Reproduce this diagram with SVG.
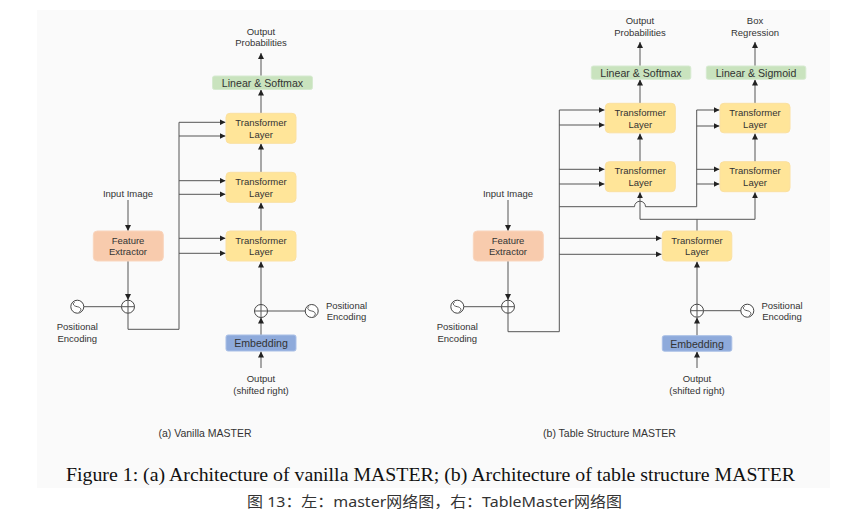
<svg xmlns="http://www.w3.org/2000/svg" width="858" height="519" viewBox="0 0 858 519">
<style>
.t{font-family:"Liberation Sans",Arial,sans-serif;font-size:9.5px;fill:#333;text-anchor:middle;dominant-baseline:central}
.bt{font-family:"Liberation Sans",Arial,sans-serif;font-size:10.6px;fill:#333;text-anchor:middle;dominant-baseline:central}
.ct{font-family:"Liberation Sans",Arial,sans-serif;font-size:10.5px;fill:#333;text-anchor:middle;dominant-baseline:central}
.ln{fill:none;stroke:#555;stroke-width:1}
.tl{fill:#ffe599;stroke:#fbe0a0;stroke-width:1}
.gr{fill:#c9e3be;stroke:#d6ead0;stroke-width:1}
.fe{fill:#f8cbad;stroke:#f9d5bd;stroke-width:1}
.em{fill:#8eaadb;stroke:#a9bfe6;stroke-width:1}
.pl{fill:#fff;stroke:#444;stroke-width:1}
</style>
<defs>
<marker id="ah" viewBox="0 0 8 8" refX="8" refY="4" markerWidth="6" markerHeight="6" markerUnits="userSpaceOnUse" orient="auto">
<path d="M0,0 L8,4 L0,8 z" fill="#222"/>
</marker>
<g id="plus"><circle r="6.5" class="pl"/><path d="M-6.5,0 H6.5 M0,-6.5 V6.5" class="ln" stroke="#444"/></g>
<g id="pe"><circle r="6.5" class="pl"/><path d="M-2.5,-4.5 C-5.5,-3 -3.5,-0.5 0,0 C3.5,0.5 5,3.5 2,5" class="ln" stroke="#444"/></g>
</defs>
<rect x="0" y="0" width="858" height="519" fill="#fff"/>
<rect x="37" y="10" width="793" height="478" fill="#fafafa"/>

<g id="connectors">
<!-- left diagram -->
<path class="ln" d="M261,76 V53" marker-end="url(#ah)"/>
<path class="ln" d="M261,113 V89.5" marker-end="url(#ah)"/>
<path class="ln" d="M261,172 V143.5" marker-end="url(#ah)"/>
<path class="ln" d="M261,231 V202.5" marker-end="url(#ah)"/>
<path class="ln" d="M261,304.5 V261.5" marker-end="url(#ah)"/>
<path class="ln" d="M261,335 V317.5" marker-end="url(#ah)"/>
<path class="ln" d="M261,368 V351.5" marker-end="url(#ah)"/>
<path class="ln" d="M267.5,311 H305"/>
<path class="ln" d="M128,200 V231" marker-end="url(#ah)"/>
<path class="ln" d="M128,261 V300" marker-end="url(#ah)"/>
<path class="ln" d="M84,306.7 H121.5"/>
<path class="ln" d="M128,313.2 V329.3 H179 V122.3"/>
<path class="ln" d="M179,122.3 H225.5" marker-end="url(#ah)"/>
<path class="ln" d="M179,136 H225.5" marker-end="url(#ah)"/>
<path class="ln" d="M179,180.7 H225.5" marker-end="url(#ah)"/>
<path class="ln" d="M179,194.3 H225.5" marker-end="url(#ah)"/>
<path class="ln" d="M179,238.3 H225.5" marker-end="url(#ah)"/>
<path class="ln" d="M179,253.3 H225.5" marker-end="url(#ah)"/>
<!-- right diagram -->
<path class="ln" d="M640,66 V42" marker-end="url(#ah)"/>
<path class="ln" d="M755,66 V42" marker-end="url(#ah)"/>
<path class="ln" d="M640,103 V79.5" marker-end="url(#ah)"/>
<path class="ln" d="M755,103 V79.5" marker-end="url(#ah)"/>
<path class="ln" d="M640,162 V133.5" marker-end="url(#ah)"/>
<path class="ln" d="M755,162 V133.5" marker-end="url(#ah)"/>
<path class="ln" d="M640,219.3 V192.3" marker-end="url(#ah)"/>
<path class="ln" d="M697,231 V219.3 H755 V192.3" marker-end="url(#ah)"/>
<path class="ln" d="M697,219.3 H640"/>
<path class="ln" d="M697,304.2 V261.5" marker-end="url(#ah)"/>
<path class="ln" d="M697,335.7 V317.5" marker-end="url(#ah)"/>
<path class="ln" d="M697,368 V351.5" marker-end="url(#ah)"/>
<path class="ln" d="M703.5,310.7 H741"/>
<path class="ln" d="M508,200 V231" marker-end="url(#ah)"/>
<path class="ln" d="M508,261 V300" marker-end="url(#ah)"/>
<path class="ln" d="M464,306.7 H501.5"/>
<path class="ln" d="M508,313.2 V331.7 H559.3 V110"/>
<path class="ln" d="M559.3,110 H604.5" marker-end="url(#ah)"/>
<path class="ln" d="M559.3,125 H604.5" marker-end="url(#ah)"/>
<path class="ln" d="M559.3,169.3 H604.5" marker-end="url(#ah)"/>
<path class="ln" d="M559.3,184 H604.5" marker-end="url(#ah)"/>
<path class="ln" d="M559.3,238.3 H661.5" marker-end="url(#ah)"/>
<path class="ln" d="M559.3,254.3 H661.5" marker-end="url(#ah)"/>
<path class="ln" d="M559.3,206.7 H634.5 A5.5,5.5 0 0 1 645.5,206.7 H696.7 V110"/>
<path class="ln" d="M696.7,110 H719.5" marker-end="url(#ah)"/>
<path class="ln" d="M696.7,126 H719.5" marker-end="url(#ah)"/>
<path class="ln" d="M696.7,169.3 H719.5" marker-end="url(#ah)"/>
<path class="ln" d="M696.7,184 H719.5" marker-end="url(#ah)"/>
</g>

<!-- left diagram nodes -->
<g id="a-out"><text class="t" x="261" y="31">Output</text><text class="t" x="261" y="42.5">Probabilities</text></g>
<g id="a-lin"><rect class="gr" x="212.5" y="76" width="100" height="13.5" rx="2"/><text class="bt" x="262.5" y="83">Linear &amp; Softmax</text></g>
<g id="a-tl1"><rect class="tl" x="226" y="113.3" width="70" height="30" rx="4"/><text class="t" x="261" y="122.5">Transformer</text><text class="t" x="261" y="134">Layer</text></g>
<g id="a-tl2"><rect class="tl" x="226" y="172.3" width="70" height="30" rx="4"/><text class="t" x="261" y="181.5">Transformer</text><text class="t" x="261" y="193">Layer</text></g>
<g id="a-tl3"><rect class="tl" x="226" y="231" width="70" height="30" rx="4"/><text class="t" x="261" y="240">Transformer</text><text class="t" x="261" y="251.5">Layer</text></g>
<g id="a-in"><text class="t" x="128" y="193.3">Input Image</text></g>
<g id="a-fe"><rect class="fe" x="93.3" y="231" width="70" height="30" rx="4"/><text class="t" x="128" y="240">Feature</text><text class="t" x="128" y="251.5">Extractor</text></g>
<g id="a-plus1"><use href="#plus" x="128" y="306.7"/></g>
<g id="a-pe1"><use href="#pe" x="77.3" y="306.7"/><text class="t" x="77.3" y="326.7">Positional</text><text class="t" x="77.3" y="338">Encoding</text></g>
<g id="a-plus2"><use href="#plus" x="261" y="311"/></g>
<g id="a-pe2"><use href="#pe" x="311.7" y="311"/><text class="t" x="346.5" y="305.3">Positional</text><text class="t" x="346.5" y="316.7">Encoding</text></g>
<g id="a-emb"><rect class="em" x="226" y="335" width="70" height="16" rx="2"/><text class="bt" x="261" y="343.3">Embedding</text></g>
<g id="a-outs"><text class="t" x="261" y="378.3">Output</text><text class="t" x="261" y="390">(shifted right)</text></g>
<g id="a-cap"><text class="ct" x="205" y="433.3">(a) Vanilla MASTER</text></g>

<!-- right diagram nodes -->
<g id="b-out"><text class="t" x="640" y="20.7">Output</text><text class="t" x="640" y="32">Probabilities</text></g>
<g id="b-box"><text class="t" x="755" y="20.7">Box</text><text class="t" x="755" y="32">Regression</text></g>
<g id="b-lin1"><rect class="gr" x="591.3" y="66" width="99.5" height="13.3" rx="2"/><text class="bt" x="641" y="72.7">Linear &amp; Softmax</text></g>
<g id="b-lin2"><rect class="gr" x="706.3" y="66" width="99.5" height="13.3" rx="2"/><text class="bt" x="756" y="72.7">Linear &amp; Sigmoid</text></g>
<g id="b-tl1"><rect class="tl" x="605.3" y="103.3" width="70" height="29.5" rx="4"/><text class="t" x="640.3" y="112.3">Transformer</text><text class="t" x="640.3" y="124">Layer</text></g>
<g id="b-tl2"><rect class="tl" x="720" y="103.3" width="70" height="29.5" rx="4"/><text class="t" x="755" y="112.3">Transformer</text><text class="t" x="755" y="124">Layer</text></g>
<g id="b-tl3"><rect class="tl" x="605.3" y="161.7" width="70" height="30" rx="4"/><text class="t" x="640.3" y="170.8">Transformer</text><text class="t" x="640.3" y="182.5">Layer</text></g>
<g id="b-tl4"><rect class="tl" x="720" y="161.7" width="70" height="30" rx="4"/><text class="t" x="755" y="170.8">Transformer</text><text class="t" x="755" y="182.5">Layer</text></g>
<g id="b-tl5"><rect class="tl" x="662.3" y="231" width="69.5" height="30" rx="4"/><text class="t" x="697" y="240">Transformer</text><text class="t" x="697" y="251.5">Layer</text></g>
<g id="b-in"><text class="t" x="508" y="193.3">Input Image</text></g>
<g id="b-fe"><rect class="fe" x="473.3" y="231" width="70" height="30" rx="4"/><text class="t" x="508" y="240">Feature</text><text class="t" x="508" y="251.5">Extractor</text></g>
<g id="b-plus1"><use href="#plus" x="508" y="306.7"/></g>
<g id="b-pe1"><use href="#pe" x="457.3" y="306.7"/><text class="t" x="457.3" y="326.7">Positional</text><text class="t" x="457.3" y="338">Encoding</text></g>
<g id="b-plus2"><use href="#plus" x="697" y="310.7"/></g>
<g id="b-pe2"><use href="#pe" x="747.3" y="310.7"/><text class="t" x="782" y="305">Positional</text><text class="t" x="782" y="316.7">Encoding</text></g>
<g id="b-emb"><rect class="em" x="662.3" y="335.7" width="69.5" height="15.5" rx="2"/><text class="bt" x="697" y="343.7">Embedding</text></g>
<g id="b-outs"><text class="t" x="697" y="378.3">Output</text><text class="t" x="697" y="390">(shifted right)</text></g>
<g id="b-cap"><text class="ct" x="609.5" y="433.3">(b) Table Structure MASTER</text></g>

<g id="captions">
<text x="66" y="481" font-family="'Liberation Serif','Times New Roman',serif" font-size="19" fill="#111" textLength="729" lengthAdjust="spacingAndGlyphs">Figure 1: (a) Architecture of vanilla MASTER; (b) Architecture of table structure MASTER</text>
<text x="247" y="501" font-family="'Noto Sans','Noto Sans CJK SC',sans-serif" font-size="15" fill="#333" dominant-baseline="central" textLength="375" lengthAdjust="spacingAndGlyphs">图 13：左：master网络图，右：TableMaster网络图</text>
</g>
</svg>
